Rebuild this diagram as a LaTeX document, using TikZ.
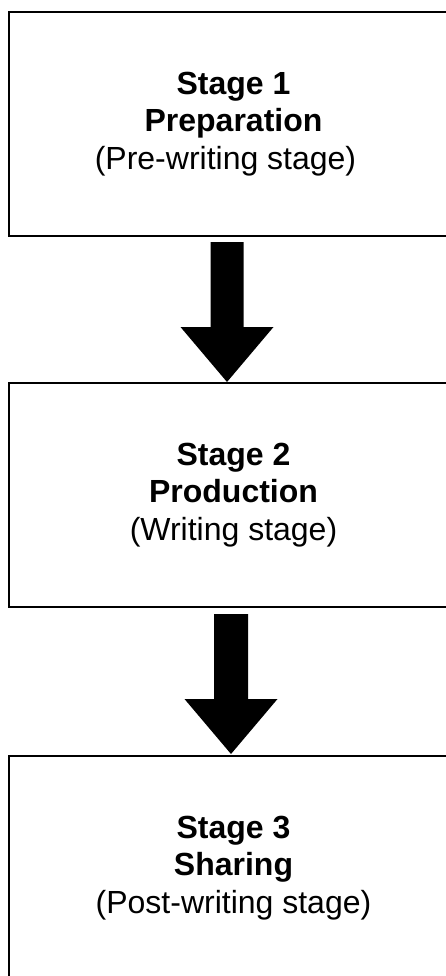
\documentclass[tikz,border=0pt]{standalone}
\usepackage{fontspec}
\setmainfont{Liberation Sans}
\usetikzlibrary{calc}
\begin{document}
\begin{tikzpicture}[x=1pt,y=-1pt,
  stagebox/.style={draw=black, line width=2pt, minimum width=449pt,
    minimum height=224pt, inner sep=0pt, align=center,
    font=\fontsize{32}{37.5}\selectfont},
  flowarrow/.style={fill=black, draw=none}]
\useasboundingbox (0,0) rectangle (446,976);
\clip (0,0) rectangle (446,976);

% stage boxes
\node[stagebox] (s1) at (233.5,124) {\textbf{Stage 1}\\\textbf{Preparation}\\(Pre-writing stage)\hspace*{16pt}};
\node[stagebox] (s2) at (233.5,495) {\textbf{Stage 2}\\\textbf{Production}\\(Writing stage)};
\node[stagebox] (s3) at (233.5,868) {\textbf{Stage 3}\\\textbf{Sharing}\\(Post-writing stage)};

% block arrows between stages
\coordinate (a1) at ($(s1.south)+(-6.5,5)$);
\coordinate (t1) at ($(s2.north)+(-6.5,0)$);
\coordinate (a2) at ($(s2.south)+(-2.5,6)$);
\coordinate (t2) at ($(s3.north)+(-2.5,-1)$);

\fill[flowarrow] ($(a1)+(-16.5,0)$) -- ($(a1)+(16.5,0)$) -- ($(t1)+(16.5,-55)$)
  -- ($(t1)+(46.5,-55)$) -- (t1) -- ($(t1)+(-46.5,-55)$) -- ($(t1)+(-16.5,-55)$) -- cycle;
\fill[flowarrow] ($(a2)+(-17,0)$) -- ($(a2)+(17,0)$) -- ($(t2)+(17,-55)$)
  -- ($(t2)+(46.5,-55)$) -- (t2) -- ($(t2)+(-46.5,-55)$) -- ($(t2)+(-17,-55)$) -- cycle;
\end{tikzpicture}
\end{document}
